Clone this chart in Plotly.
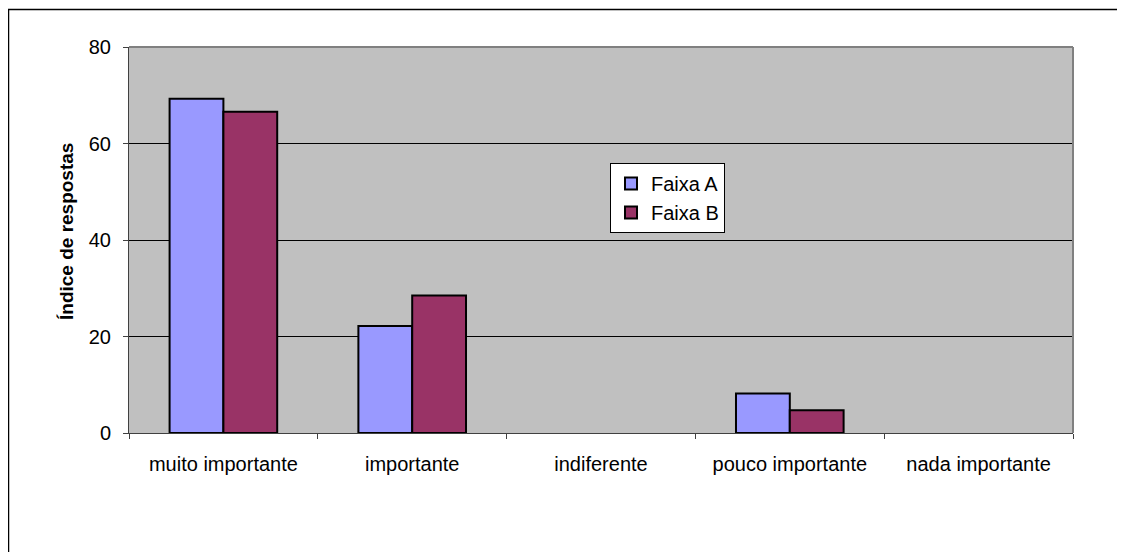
import plotly.graph_objects as go

categories = ["muito importante", "importante", "indiferente", "pouco importante", "nada importante"]
faixa_a = [69.3, 22.2, None, 8.2, None]
faixa_b = [66.6, 28.5, None, 4.7, None]
y_ticks = [0, 20, 40, 60, 80]

FONT = "Arial, Liberation Sans, sans-serif"

# page offset (body margin) of the plot div
OFF = 8
# plot area in page pixels
L, R, T, B = 129 - OFF, 1073 - OFF, 47 - OFF, 433 - OFF
W, H = 1125, 552
pw, ph = R - L, B - T

def px_x(x):
    return (x - OFF - L) / pw

def px_y(y):
    return (B - (y - OFF)) / ph

fig = go.Figure()
fig.add_trace(go.Bar(x=categories, y=faixa_a, name="Faixa A",
                     marker=dict(color="#9999FF", line=dict(color="black", width=2))))
fig.add_trace(go.Bar(x=categories, y=faixa_b, name="Faixa B",
                     marker=dict(color="#993366", line=dict(color="black", width=2))))

fig.update_layout(
    width=W, height=H,
    margin=dict(l=L, r=W - R, t=T, b=H - B, autoexpand=False),
    paper_bgcolor="white",
    plot_bgcolor="#C0C0C0",
    barmode="group",
    bargap=0.43,
    bargroupgap=0,
    font=dict(family=FONT, size=20, color="black"),
    legend=dict(x=px_x(610), y=px_y(163), xanchor="left", yanchor="top",
                bgcolor="white", bordercolor="black", borderwidth=1,
                font=dict(size=20, family=FONT), tracegroupgap=0,
                itemwidth=30),
    showlegend=True,
)

fig.update_xaxes(
    type="category", tickson="boundaries",
    ticks="outside", ticklen=5, tickcolor="#404040",
    showline=True, linecolor="#404040", linewidth=1,
    showgrid=False, ticklabelstandoff=13,
    tickfont=dict(size=20, family=FONT),
)
fig.update_yaxes(
    range=[0, 80], tickvals=y_ticks, ticktext=[str(v) for v in y_ticks],
    ticks="outside", ticklen=5, tickcolor="#404040",
    showline=True, linecolor="#404040", linewidth=1,
    showgrid=True, gridcolor="black", gridwidth=1,
    zeroline=False, ticklabelstandoff=8,
    tickfont=dict(size=20, family=FONT),
)

# top and right plot-area edges (gray)
fig.add_shape(type="line", xref="paper", yref="paper", x0=0, x1=1, y0=1, y1=1,
              line=dict(color="#808080", width=2))
fig.add_shape(type="line", xref="paper", yref="paper", x0=1, x1=1, y0=0, y1=1,
              line=dict(color="#808080", width=2))

# outer chart border
fig.add_shape(type="rect", xref="paper", yref="paper",
              x0=px_x(8.5), x1=px_x(1140), y0=px_y(570), y1=px_y(9.5),
              line=dict(color="black", width=1.5), fillcolor="rgba(0,0,0,0)")

# y axis title
fig.add_annotation(text="<b>Índice de respostas</b>", xref="paper", yref="paper",
                   x=px_x(66), y=px_y(232), textangle=-90, showarrow=False,
                   xanchor="center", yanchor="middle",
                   font=dict(size=19, family=FONT, color="black"))

fig.write_html("out.html")
